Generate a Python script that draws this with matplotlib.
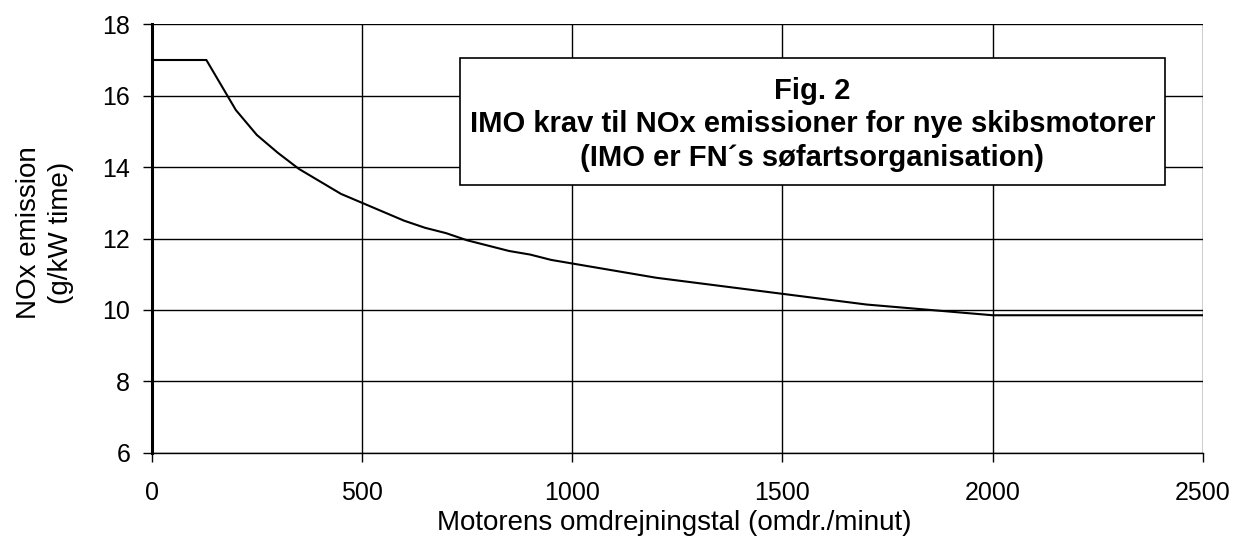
import matplotlib
matplotlib.use("Agg")
import matplotlib.pyplot as plt
from matplotlib.patches import Rectangle

rpm = [0, 130, 200, 250, 300, 350, 400, 450, 500, 550, 600, 650, 700, 750, 800,
       850, 900, 950, 1000, 1100, 1200, 1300, 1400, 1500, 1600, 1700, 1800, 1900,
       2000, 2500]
nox = [17.0, 17.0, 15.6, 14.9, 14.4, 13.95, 13.6, 13.25, 13.0, 12.75, 12.5, 12.3,
       12.15, 11.95, 11.8, 11.65, 11.55, 11.4, 11.3, 11.1, 10.9, 10.75, 10.6,
       10.45, 10.3, 10.15, 10.05, 9.95, 9.85, 9.85]
xticks = [0, 500, 1000, 1500, 2000, 2500]
yticks = [6, 8, 10, 12, 14, 16, 18]
title_lines = ["Fig. 2",
               "IMO krav til NOx emissioner for nye skibsmotorer",
               "(IMO er FN\u00b4s s\u00f8fartsorganisation)"]

plt.rcParams['font.family'] = ['Liberation Sans', 'DejaVu Sans']

W, H = 1234, 538
fig = plt.figure(figsize=(W / 100, H / 100), dpi=100)
L, R, T, B = 151.7, 1203, 24.3, 452.7
ax = fig.add_axes([L / W, 1 - B / H, (R - L) / W, (B - T) / H])

ax.plot(rpm, nox, color='black', lw=1.5, zorder=3)
ax.set_xlim(0, 2500)
ax.set_ylim(6, 18)
ax.set_xticks(xticks)
ax.set_yticks(yticks)
ax.grid(True, color='black', lw=1.0, zorder=1)
for s in ['top', 'right']:
    ax.spines[s].set_visible(False)
ax.spines['left'].set_linewidth(2.2)
ax.spines['bottom'].set_linewidth(1.0)
ax.tick_params(axis='both', direction='out', length=6.5, width=1, labelsize=18,
               color='black')
ax.tick_params(axis='x', pad=14)
ax.tick_params(axis='y', pad=9)

xl = ax.set_xlabel("Motorens omdrejningstal (omdr./minut)", fontsize=20)
ax.xaxis.set_label_coords(0.497, (B - 530) / (B - T))
xl.set_va('baseline')

yl = ax.set_ylabel("NOx emission\n(g/kW time)", fontsize=20, linespacing=1.35)
ax.yaxis.set_label_coords((45 - L) / (R - L), (B - 233) / (B - T))
yl.set_va('center')
yl.set_rotation_mode('default')

# annotation box (pixel coordinates -> figure coords)
bx0, bx1, by0, by1 = 460, 1165, 58, 185
rect = Rectangle((bx0 / W, 1 - by1 / H), (bx1 - bx0) / W, (by1 - by0) / H,
                 transform=fig.transFigure, facecolor='white', edgecolor='black',
                 lw=1.2, zorder=10)
fig.patches.append(rect)
cx = (bx0 + bx1) / 2
for cy, line in zip([91, 124, 158], title_lines):
    fig.text(cx / W, 1 - cy / H, line, ha='center', va='center',
             fontsize=21, fontweight='bold', zorder=11)

fig.savefig("out.png", dpi=100)
